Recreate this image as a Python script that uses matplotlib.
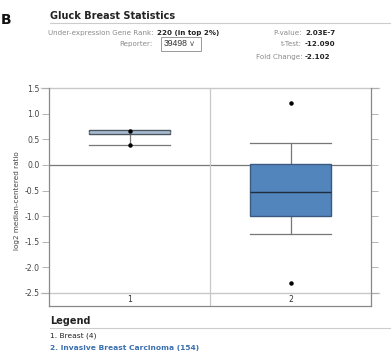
import matplotlib
matplotlib.use("Agg")
import matplotlib.pyplot as plt
from matplotlib.patches import Rectangle

# ---- data ----
categories = ["1", "2"]
legend_labels = ["1. Breast (4)", "2. Invasive Breast Carcinoma (154)"]
q1 = [0.605, -1.00]
med = [0.645, -0.52]
q3 = [0.685, 0.02]
whislo = [0.385, -1.35]
whishi = [0.67, 0.435]
fliers = [[0.67, 0.385], [1.215, -2.30]]
yticks = [1.5, 1.0, 0.5, 0.0, -0.5, -1.0, -1.5, -2.0, -2.5]
ytick_labels = ["1.5", "1.0", "0.5", "0.0", "-0.5", "-1.0", "-1.5", "-2.0", "-2.5"]
box_colors = ["#a8bbcf", "#5385bd"]
box_edges = ["#4a5560", "#3c5a7e"]

W, H = 391, 354
fig = plt.figure(figsize=(W / 100, H / 100), dpi=100)
plt.rcParams['font.family'] = ['DejaVu Sans']

def fx(px):
    return px / W

def fy(py):
    return 1 - py / H

# ---- header ----
fig.text(fx(1), fy(20), "B", fontsize=10, fontweight="bold", ha="left", va="center", color="#111")
fig.text(fx(50), fy(16), "Gluck Breast Statistics", fontsize=7, fontweight="bold",
         ha="left", va="center", color="#222")
fig.add_artist(plt.Line2D([fx(50), fx(391)], [fy(23), fy(23)], color="#cccccc", lw=0.8))

lab_col = "#8a8a8a"
val_col = "#222222"
fs = 5.1
fig.text(fx(153), fy(33), "Under-expression Gene Rank:", fontsize=fs, ha="right", va="center", color=lab_col)
fig.text(fx(157), fy(33), "220 (in top 2%)", fontsize=fs, ha="left", va="center", color=val_col,
         fontweight="bold")
fig.text(fx(153), fy(44), "Reporter:", fontsize=fs, ha="right", va="center", color=lab_col)
fig.add_artist(Rectangle((fx(161), fy(50.5)), fx(40), 13.5 / H, fill=False, ec="#999", lw=0.7))
fig.text(fx(164), fy(44), "39498", fontsize=6.2, ha="left", va="center", color="#333",
         family=["Liberation Sans", "DejaVu Sans"])
fig.text(fx(189), fy(44), "∨", fontsize=6, ha="left", va="center", color="#666")

fig.text(fx(302), fy(33), "P-value:", fontsize=fs, ha="right", va="center", color=lab_col)
fig.text(fx(305), fy(33), "2.03E-7", fontsize=fs, ha="left", va="center", color=val_col, fontweight="bold")
fig.text(fx(302), fy(44), "t-Test:", fontsize=fs, ha="right", va="center", color=lab_col)
fig.text(fx(305), fy(44), "-12.090", fontsize=fs, ha="left", va="center", color=val_col, fontweight="bold")
fig.text(fx(302), fy(57), "Fold Change:", fontsize=fs, ha="right", va="center", color=lab_col)
fig.text(fx(305), fy(57), "-2.102", fontsize=fs, ha="left", va="center", color=val_col, fontweight="bold")

# ---- plot ----
left, right, top, bottom = 49, 371, 88, 306
ax = fig.add_axes([fx(left), fy(bottom), fx(right - left), (bottom - top) / H])
ymax, ymin_tick = 1.5, -2.5
ppu = (293 - 88) / (ymax - ymin_tick)
ymin = ymin_tick - (bottom - 293) / ppu
ax.set_ylim(ymin, ymax)
ax.set_xlim(0.5, 2.5)

stats = []
for i in range(len(categories)):
    stats.append(dict(med=med[i], q1=q1[i], q3=q3[i], whislo=whislo[i],
                      whishi=whishi[i], fliers=fliers[i], label=categories[i]))

bp = ax.bxp(stats, positions=[1, 2], widths=0.5, capwidths=0.5, patch_artist=True,
            showfliers=True, manage_ticks=False,
            whiskerprops=dict(color="#777777", lw=0.9),
            capprops=dict(color="#777777", lw=0.9),
            medianprops=dict(color="#1f2d3d", lw=1.0),
            flierprops=dict(marker="o", markersize=2.2, markerfacecolor="black",
                            markeredgecolor="black", linestyle="none"))
for patch, fc, ec in zip(bp["boxes"], box_colors, box_edges):
    patch.set_facecolor(fc)
    patch.set_edgecolor(ec)
    patch.set_linewidth(1.0)
    patch.set_zorder(3)
for m in bp["medians"]:
    m.set_zorder(4)
bp["medians"][0].set_color(box_colors[0])
for f in bp["fliers"]:
    f.set_zorder(5)

# grid / frame lines
ax.axhline(0.0, color="#777777", lw=0.9, zorder=1)
for yv in (ymax, ymin_tick):
    ax.plot([0.45, 2.55], [yv, yv], color="#c8c8c8", lw=1.0, clip_on=False, zorder=1)
ax.axvline(1.5, color="#c8c8c8", lw=0.9, zorder=1)

for s in ("left", "right", "bottom"):
    ax.spines[s].set_color("#888888")
    ax.spines[s].set_linewidth(0.9)
ax.spines["top"].set_visible(False)

ax.set_yticks(yticks)
ax.set_yticklabels(ytick_labels)
ax.tick_params(axis="y", which="both", left=True, right=True, direction="out",
               length=5, width=0.6, color="#aaaaaa", labelsize=5.6, labelcolor="#444444", pad=2)
ax.set_xticks([])

for i, c in enumerate(categories):
    ax.text(i + 1, (ymin + ymin_tick) / 2, c, ha="center", va="center", fontsize=5.6, color="#333")

fig.text(fx(17), fy(201), "log2 median-centered ratio", rotation=90, ha="center", va="center",
         fontsize=5.2, color="#444")

# ---- legend ----
fig.text(fx(50), fy(321), "Legend", fontsize=7, fontweight="bold", ha="left", va="center", color="#222")
fig.add_artist(plt.Line2D([fx(50), fx(391)], [fy(328), fy(328)], color="#cccccc", lw=0.8))
fig.text(fx(50), fy(336), legend_labels[0], fontsize=5.4, ha="left", va="center", color="#222")
fig.text(fx(50), fy(348), legend_labels[1], fontsize=5.4, ha="left", va="center", color="#3a6fb0",
         fontweight="bold")

fig.savefig("out.png", dpi=100)
